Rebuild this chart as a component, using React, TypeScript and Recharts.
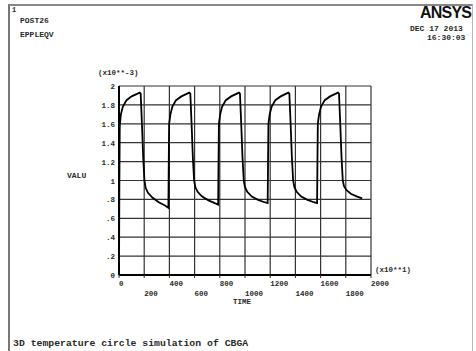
import React from 'react';
import { LineChart, Line, XAxis, YAxis, CartesianGrid } from 'recharts';

// POST26 EPPLEQV vs TIME (time in x10**1, value in x10**-3)
const timeSteps = [
  0, 3, 6, 15, 30, 60, 100, 165, 172, 182, 192, 202, 212, 230, 265, 315, 365, 392,
  395, 398, 408, 423, 453, 495, 558, 566, 576, 586, 596, 606, 624, 660, 710, 760, 787,
  790, 793, 803, 818, 848, 890, 952, 960, 970, 980, 990, 1000, 1018, 1054, 1104, 1154, 1180,
  1183, 1186, 1196, 1211, 1241, 1283, 1344, 1352, 1362, 1372, 1382, 1392, 1410, 1446, 1496, 1546, 1572,
  1575, 1578, 1588, 1603, 1633, 1675, 1738, 1746, 1756, 1766, 1776, 1786, 1804, 1840, 1890, 1930
];

const epplEqv = [
  0, 1.0, 1.58, 1.7, 1.78, 1.85, 1.89, 1.93, 1.92, 1.6, 1.25, 1.0, 0.92, 0.87, 0.82, 0.77, 0.735, 0.71,
  1.2, 1.6, 1.7, 1.78, 1.85, 1.89, 1.93, 1.92, 1.6, 1.25, 1.0, 0.93, 0.88, 0.83, 0.79, 0.76, 0.745,
  1.2, 1.6, 1.7, 1.78, 1.85, 1.89, 1.93, 1.92, 1.6, 1.25, 1.0, 0.93, 0.88, 0.83, 0.795, 0.77, 0.76,
  1.2, 1.6, 1.7, 1.78, 1.85, 1.89, 1.93, 1.92, 1.6, 1.25, 1.0, 0.93, 0.88, 0.83, 0.795, 0.77, 0.76,
  1.2, 1.6, 1.7, 1.78, 1.85, 1.89, 1.93, 1.92, 1.6, 1.25, 1.0, 0.94, 0.9, 0.86, 0.83, 0.81
];

const xTicks = [0, 200, 400, 600, 800, 1000, 1200, 1400, 1600, 1800, 2000];
const yTicks = [0, 0.2, 0.4, 0.6, 0.8, 1, 1.2, 1.4, 1.6, 1.8, 2];
const yTickLabels = ['0', '.2', '.4', '.6', '.8', '1', '1.2', '1.4', '1.6', '1.8', '2'];

const data = timeSteps.map((t, i) => ({ time: t, value: epplEqv[i] }));

const mono = '"Liberation Mono", monospace';
const ink = '#2a2a2a';

// x labels are left-aligned on the tick and alternate between two rows
const XTick = (props: any) => {
  const { x, y, payload, index } = props;
  const row = index % 2 === 0 ? 0 : 10;
  return (
    <text x={x} y={y + 6 + row} fontFamily={mono} fontSize={7.5} fontWeight="bold" fill={ink} textAnchor="start">
      {String(payload.value)}
    </text>
  );
};

const YTick = (props: any) => {
  const { x, y, payload, index } = props;
  return (
    <text x={x} y={y + 3} fontFamily={mono} fontSize={7.5} fontWeight="bold" fill={ink} textAnchor="end">
      {yTickLabels[index] ?? String(payload.value)}
    </text>
  );
};

const txt = (left: number, top: number, size: number, s: string, extra: React.CSSProperties = {}) => (
  <div
    style={{
      position: 'absolute',
      left,
      top,
      fontFamily: mono,
      fontSize: size,
      fontWeight: 'bold',
      color: ink,
      whiteSpace: 'nowrap',
      lineHeight: 1,
      ...extra
    }}
  >
    {s}
  </div>
);

export default function App() {
  return (
    <div style={{ position: 'absolute', left: 0, top: 0, width: 476, height: 351, background: '#fff', overflow: 'hidden' }}>
      {/* window frame */}
      <div style={{ position: 'absolute', left: 8, top: 4, width: 462, height: 400, borderLeft: '2px solid #777', borderTop: '2px solid #888', borderRight: '1px solid #bbb' }} />
      {txt(12, 7, 7, '1')}
      {txt(20, 17, 8, 'POST26')}
      {txt(20, 31, 8, 'EPPLEQV')}
      {txt(420, 5, 16, 'ANSYS', { fontFamily: '"Liberation Sans", sans-serif', fontWeight: 900, letterSpacing: -0.8, color: '#111' })}
      {txt(410, 25, 8, 'DEC 17 2013')}
      {txt(427, 34, 8, '16:30:03')}
      {txt(13, 339, 9.8, '3D temperature circle simulation of CBGA')}

      <LineChart
        width={476}
        height={351}
        data={data}
        margin={{ top: 86, right: 105, bottom: 46, left: 79 }}
        style={{ position: 'absolute', left: 0, top: 0 }}
      >
        <CartesianGrid stroke="#333" strokeWidth={1.2} />
        <XAxis
          dataKey="time"
          type="number"
          domain={[0, 2000]}
          ticks={xTicks}
          interval={0}
          height={30}
          tick={<XTick />}
          tickLine={{ stroke: '#333' }}
          tickSize={3}
          axisLine={{ stroke: '#000', strokeWidth: 2 }}
        />
        <YAxis
          type="number"
          domain={[0, 2]}
          ticks={yTicks}
          interval={0}
          width={40}
          tick={<YTick />}
          tickLine={false}
          tickSize={4}
          tickMargin={0}
          axisLine={{ stroke: '#000', strokeWidth: 2 }}
        />
        <Line
          type="linear"
          dataKey="value"
          stroke="#000"
          strokeWidth={1.8}
          dot={false}
          isAnimationActive={false}
        />
      </LineChart>

      {txt(98, 70, 7.5, '(x10**-3)')}
      {txt(67, 172, 8, 'VALU')}
      {txt(375, 267, 7.5, '(x10**1)')}
      {txt(233, 299, 7.5, 'TIME')}
    </div>
  );
}
